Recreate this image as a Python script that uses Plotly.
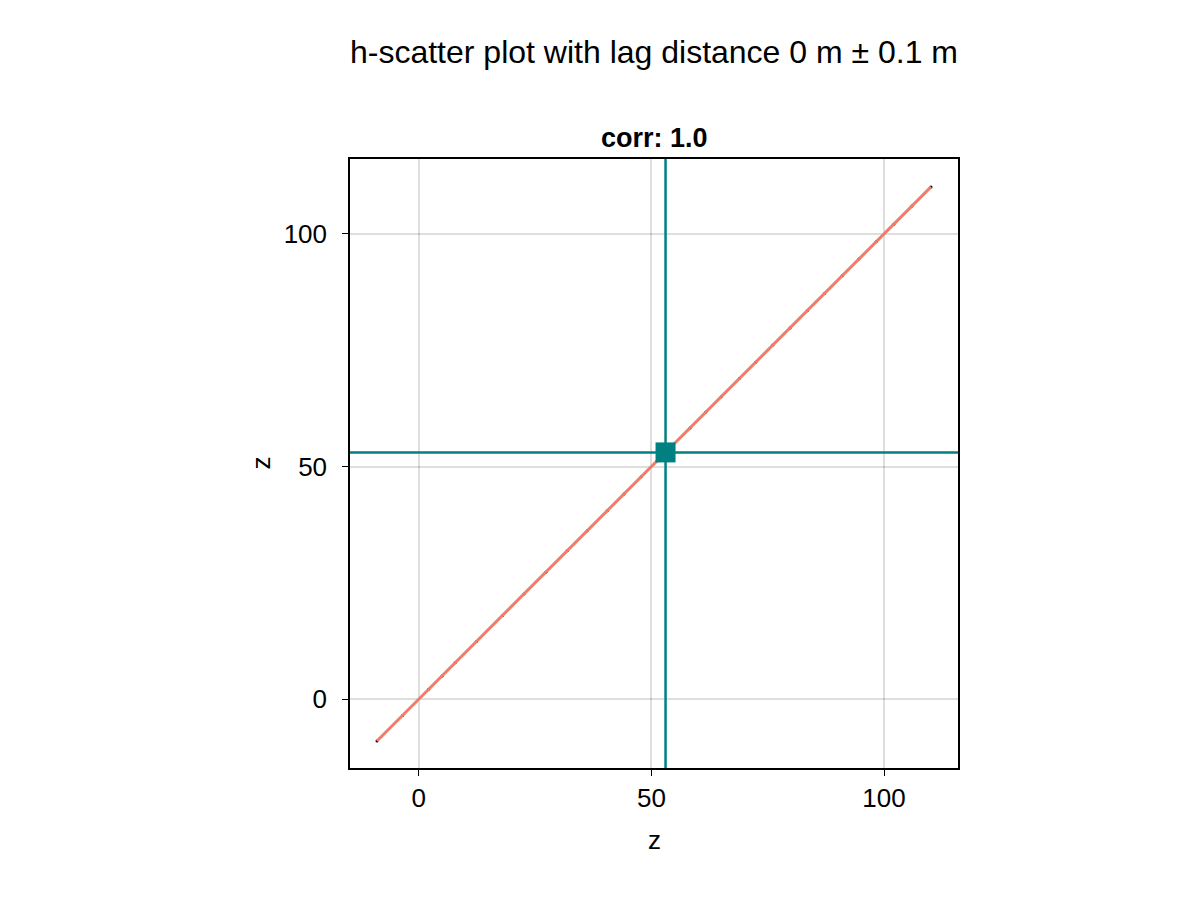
import numpy as np
import plotly.graph_objects as go

# Data: z values at head and tail (lag 0 -> identical)
z_values = [-9.0, -3.5, 2.1, 5.0, 7.8, 12.4, 18.0, 22.6, 27.3, 31.9, 36.2, 40.5,
            44.1, 47.8, 51.2, 54.6, 58.3, 61.7, 65.0, 68.9, 72.4, 76.1, 79.8,
            83.5, 87.2, 91.0, 94.6, 98.3, 102.1, 106.0, 110.1]
x_tick_vals = [0, 50, 100]
y_tick_vals = [0, 50, 100]
title_text = "h-scatter plot with lag distance 0 m ± 0.1 m"
subtitle_text = "corr: 1.0"

x = np.array(z_values)
y = np.array(z_values)
slope, intercept = np.polyfit(x, y, 1)
xl = np.array([x.min(), x.max()])
yl = slope * xl + intercept
mx, my = x.mean(), y.mean()

FONT = "Liberation Sans, Arial, sans-serif"
TEAL = "#008080"

fig = go.Figure()
fig.add_trace(go.Scatter(x=x, y=y, mode="markers",
                         marker=dict(color="black", size=3, line=dict(width=0)), showlegend=False))
fig.add_trace(go.Scatter(x=xl, y=yl, mode="lines",
                         line=dict(color="#F27C6C", width=3), showlegend=False))
fig.add_vline(x=mx, line=dict(color=TEAL, width=2.5))
fig.add_hline(y=my, line=dict(color=TEAL, width=2.5))
fig.add_trace(go.Scatter(x=[mx], y=[my], mode="markers",
                         marker=dict(color=TEAL, size=20, symbol="square"), showlegend=False))

axis_common = dict(showgrid=True, gridcolor="rgba(0,0,0,0.13)", gridwidth=1.5,
                   showline=True, linecolor="black", linewidth=1.5, mirror=True,
                   ticks="outside", ticklen=6, tickcolor="black", tickwidth=1,
                   zeroline=False, tickfont=dict(family=FONT, size=26, color="black"))

fig.update_xaxes(range=[-14.8, 115.9], tickvals=x_tick_vals, **axis_common)
fig.update_yaxes(range=[-14.8, 116.1], tickvals=y_tick_vals, ticklabelstandoff=10, **axis_common)

fig.update_layout(
    width=1200, height=900,
    margin=dict(l=350, r=242, t=159, b=132),
    plot_bgcolor="white", paper_bgcolor="white",
    title=dict(text=title_text, x=654/1200, xanchor="center", y=1 - 52/900, yanchor="middle",
               font=dict(family=FONT, size=32, color="black")),
    annotations=[
        dict(text="<b>" + subtitle_text + "</b>", xref="paper", yref="paper",
             x=0.5, y=1 + (159 - 138) / 609, xanchor="center", yanchor="middle",
             showarrow=False, font=dict(family=FONT, size=27, color="black")),
        dict(text="z", xref="paper", yref="paper", x=0.5, y=(768 - 840) / 609,
             xanchor="center", yanchor="middle", showarrow=False,
             font=dict(family=FONT, size=26, color="black")),
        dict(text="z", xref="paper", yref="paper", x=(260 - 350) / 608, y=0.5,
             xanchor="center", yanchor="middle", showarrow=False, textangle=-90,
             font=dict(family=FONT, size=26, color="black")),
    ],
)

fig.write_html("out.html")
